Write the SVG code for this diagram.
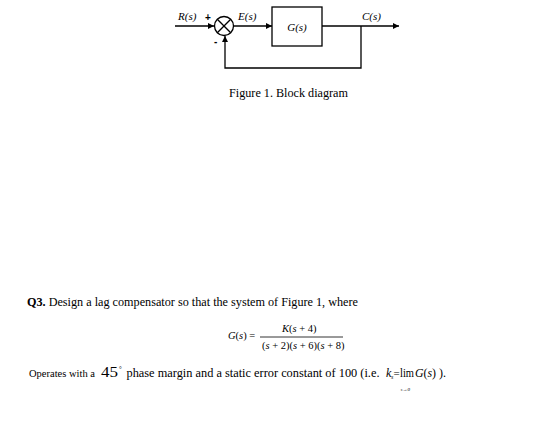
<svg xmlns="http://www.w3.org/2000/svg" width="560" height="431" viewBox="0 0 560 431">
<defs>
<marker id="arr" viewBox="0 0 10 10" refX="10" refY="5" markerWidth="8" markerHeight="6" markerUnits="userSpaceOnUse" orient="auto">
<path d="M0,0 L10,5 L0,10 z" fill="#000"/>
</marker>
<style>
.ln{fill:none;stroke:#000;stroke-width:1.3}
.lbl{font-family:"Liberation Serif",serif;font-style:italic;font-size:11px;fill:#000}
.tx{font-family:"Liberation Serif",serif;font-size:12.2px;fill:#000}
.it{font-style:italic}
</style>
</defs>
<rect width="560" height="431" fill="#fff"/>
<g id="connectors">
<line class="ln" x1="175" y1="26" x2="214" y2="26" marker-end="url(#arr)"/>
<line class="ln" x1="234" y1="26" x2="272" y2="26" marker-end="url(#arr)"/>
<line class="ln" x1="322" y1="26" x2="399" y2="26" marker-end="url(#arr)"/>
<polyline class="ln" points="361,26 361,68 225,68 225,36" marker-end="url(#arr)"/>
</g>
<g id="sum">
<circle class="ln" cx="224" cy="26" r="9.5"/>
<line class="ln" x1="217.3" y1="19.3" x2="230.7" y2="32.7"/>
<line class="ln" x1="230.7" y1="19.3" x2="217.3" y2="32.7"/>
<text x="205" y="21" font-family="Liberation Sans,sans-serif" font-size="10" font-weight="bold">+</text>
<text x="214" y="45" font-family="Liberation Sans,sans-serif" font-size="10" font-weight="bold">-</text>
</g>
<g id="block-G">
<rect class="ln" x="272" y="7" width="50" height="39" stroke-width="1.6"/>
<text class="lbl" x="297" y="31" text-anchor="middle">G(s)</text>
</g>
<g id="labels">
<text class="lbl" x="178" y="20">R(s)</text>
<text class="lbl" x="238" y="20">E(s)</text>
<text class="lbl" x="362" y="20">C(s)</text>
</g>
<text class="tx" x="229" y="97" textLength="119" lengthAdjust="spacingAndGlyphs">Figure 1. Block diagram</text>
<text class="tx" x="27" y="306" textLength="331" lengthAdjust="spacingAndGlyphs"><tspan font-weight="bold">Q3.</tspan> Design a lag compensator so that the system of Figure 1, where</text>
<g font-family="Liberation Serif,serif" font-size="10.5" fill="#000">
<text x="228" y="339"><tspan class="it">G</tspan>(<tspan class="it">s</tspan>) =</text>
<text x="282" y="332"><tspan class="it">K</tspan>(<tspan class="it">s</tspan> + 4)</text>
<text x="262" y="349">(<tspan class="it">s</tspan> + 2)(<tspan class="it">s</tspan> + 6)(<tspan class="it">s</tspan> + 8)</text>
</g>
<line x1="260" y1="337" x2="343" y2="337" stroke="#000" stroke-width="0.8"/>
<g font-family="Liberation Serif,serif" fill="#000">
<text x="29" y="377" font-size="11.3" textLength="66" lengthAdjust="spacingAndGlyphs">Operates with a</text>
<text x="101" y="377" font-size="14" textLength="17" lengthAdjust="spacingAndGlyphs">45</text>
<text x="119" y="371" font-size="7">°</text>
<text x="126.5" y="377" font-size="12" textLength="253" lengthAdjust="spacingAndGlyphs">phase margin and a static error constant of 100 (i.e.</text>
<text x="386" y="377" font-size="12" class="it">k</text>
<text x="391" y="379" font-size="6" class="it">s</text>
<text x="393.5" y="377" font-size="11">=</text>
<text x="400" y="377" font-size="12" textLength="14" lengthAdjust="spacingAndGlyphs">lim</text>
<text x="415" y="377" font-size="12" textLength="21" lengthAdjust="spacingAndGlyphs"><tspan class="it">G</tspan>(<tspan class="it">s</tspan>)</text>
<text x="439" y="377" font-size="12">).</text>
<text x="400.5" y="391" font-size="5" class="it">s→0</text>
</g>
</svg>
